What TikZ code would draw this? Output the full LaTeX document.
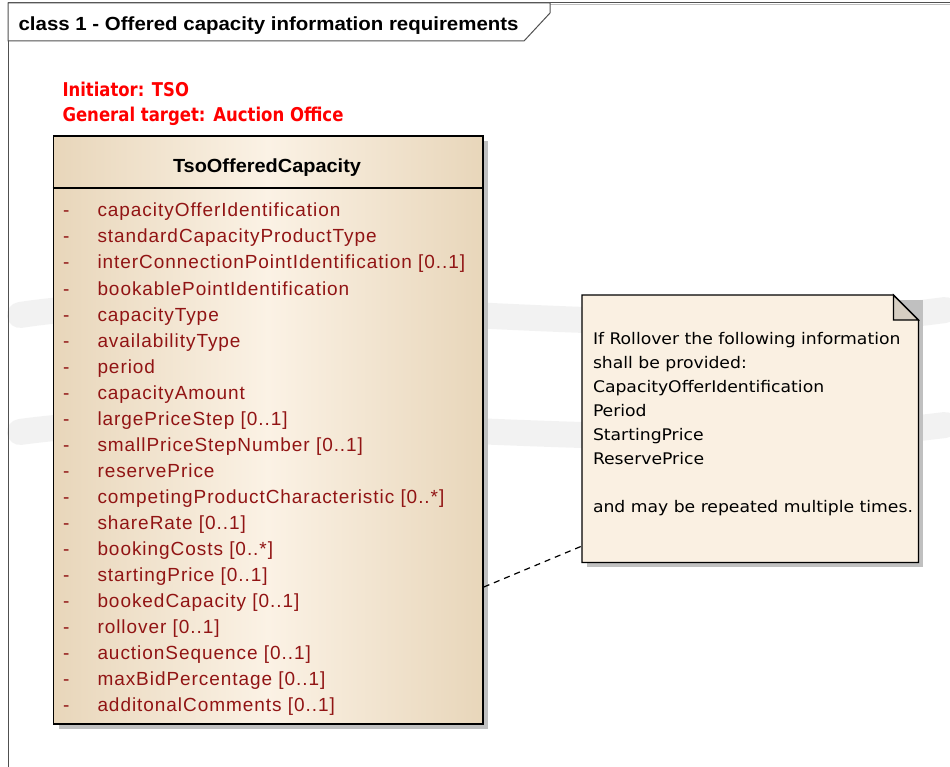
\documentclass[tikz,border=0pt]{standalone}
\usepackage{fontspec}
\setmainfont{Liberation Sans}
\newfontfamily\attrfont[LetterSpace=5]{Liberation Sans}
\newfontfamily\notefont{DejaVu Sans Condensed}
\newcommand\fitw[2]{\resizebox{#1}{\height}{#2}}
\definecolor{framecol}{RGB}{80,80,80}
\definecolor{attrred}{RGB}{145,20,20}
\definecolor{lblred}{RGB}{255,0,0}
\definecolor{boxedge}{RGB}{232,214,186}
\definecolor{boxmid}{RGB}{251,242,229}
\definecolor{notefill}{RGB}{250,240,226}
\definecolor{foldfill}{RGB}{214,206,194}
\definecolor{shadowcol}{RGB}{192,192,192}
\definecolor{wmark}{RGB}{228,228,228}
\begin{document}
\begin{tikzpicture}[x=1pt,y=-1pt,
  txt/.style={anchor=base west,inner sep=0pt,outer sep=0pt},
  attr/.style={txt,text=attrred,font=\attrfont\fontsize{19}{22}\selectfont},
  redlbl/.style={txt,text=lblred,font=\notefont\bfseries\fontsize{19}{22}\selectfont},
  shadow/.style={fill=shadowcol,draw=none}]
\useasboundingbox (0,0) rectangle (950,767);
\fill[white] (0,0) rectangle (950,767);
% faint watermark bands
\draw[wmark,line width=26pt,opacity=0.45,line cap=round] (20,315) .. controls (250,280) and (650,350) .. (945,310);
\draw[wmark,line width=26pt,opacity=0.45,line cap=round] (20,432) .. controls (250,400) and (650,462) .. (945,425);
% frame
\draw[framecol,line width=1pt] (8,767) -- (8,3) -- (950,3);
\draw[white!75!black,line width=1pt] (8,5) -- (950,5);
\filldraw[fill=white,draw=framecol,line width=1pt] (8,3) -- (550,3) -- (550,13) -- (524,41) -- (8,41) -- cycle;
\node[txt] (title) at (18.6,31) {\fitw{500pt}{\bfseries\fontsize{19}{22}\selectfont class 1 - Offered capacity information requirements}};
% red labels
\node[redlbl] (init) at (62.5,97) {\fitw{126.5pt}{Initiator: TSO}};
\node[redlbl] (gen) at (62.5,122) {\fitw{281pt}{General target: Auction Office}};
% class box
\fill[shadow] (58.5,141) rectangle (488,729);
\node[draw=black,line width=1.8pt,anchor=north west,minimum width=429.5pt,minimum height=588pt,inner sep=0pt,
  left color=boxedge,right color=boxedge,middle color=boxmid] (cls) at (52.5,135) {};
\draw[black,line width=1.8pt] (52.5,188) -- (482,188);
\node[txt] (clsname) at (173,173) {\fitw{188pt}{\bfseries\fontsize{19}{22}\selectfont TsoOfferedCapacity}};
\foreach \t [count=\i from 0] in {
  {capacityOfferIdentification},
  {standardCapacityProductType},
  {interConnectionPointIdentification [0..1]},
  {bookablePointIdentification},
  {capacityType},
  {availabilityType},
  {period},
  {capacityAmount},
  {largePriceStep [0..1]},
  {smallPriceStepNumber [0..1]},
  {reservePrice},
  {competingProductCharacteristic [0..*]},
  {shareRate [0..1]},
  {bookingCosts [0..*]},
  {startingPrice [0..1]},
  {bookedCapacity [0..1]},
  {rollover [0..1]},
  {auctionSequence [0..1]},
  {maxBidPercentage [0..1]},
  {additonalComments [0..1]}} {
  \node[attr] (d\i) at (63,217+26*\i) {-};
  \node[attr] (a\i) at (97.5,217+26*\i) {\t};
}
% note
\fill[shadow] (587,300) -- (923,300) -- (923,567) -- (587,567) -- cycle;
\node[anchor=north west,minimum width=336pt,minimum height=267pt,inner sep=0pt] (note) at (582,295) {};
\filldraw[fill=notefill,draw=black,line width=1.3pt] (note.north west) -- ([xshift=-25pt]note.north east) -- ([yshift=-25pt]note.north east) -- (note.south east) -- (note.south west) -- cycle;
\filldraw[fill=foldfill,draw=black,line width=1.3pt] ([xshift=-25pt]note.north east) -- ([yshift=-25pt]note.north east) -- ([xshift=-25pt,yshift=-25pt]note.north east) -- cycle;
\node[txt] (notetext) at (593,344) {\fitw{320pt}{\notefont\fontsize{16}{24}\selectfont\begin{tabular}[t]{@{}l@{}}
If Rollover the following information\\
shall be provided:\\
CapacityOfferIdentification\\
Period\\
StartingPrice\\
ReservePrice\\
\\
and may be repeated multiple times.
\end{tabular}}};
% connector
\coordinate (c1) at (cls.east |- 0,587);
\coordinate (c2) at (note.west |- 0,546);
\draw[black,line width=1.2pt,dash pattern=on 6pt off 5pt] (c1) -- (c2);
\end{tikzpicture}
\end{document}
